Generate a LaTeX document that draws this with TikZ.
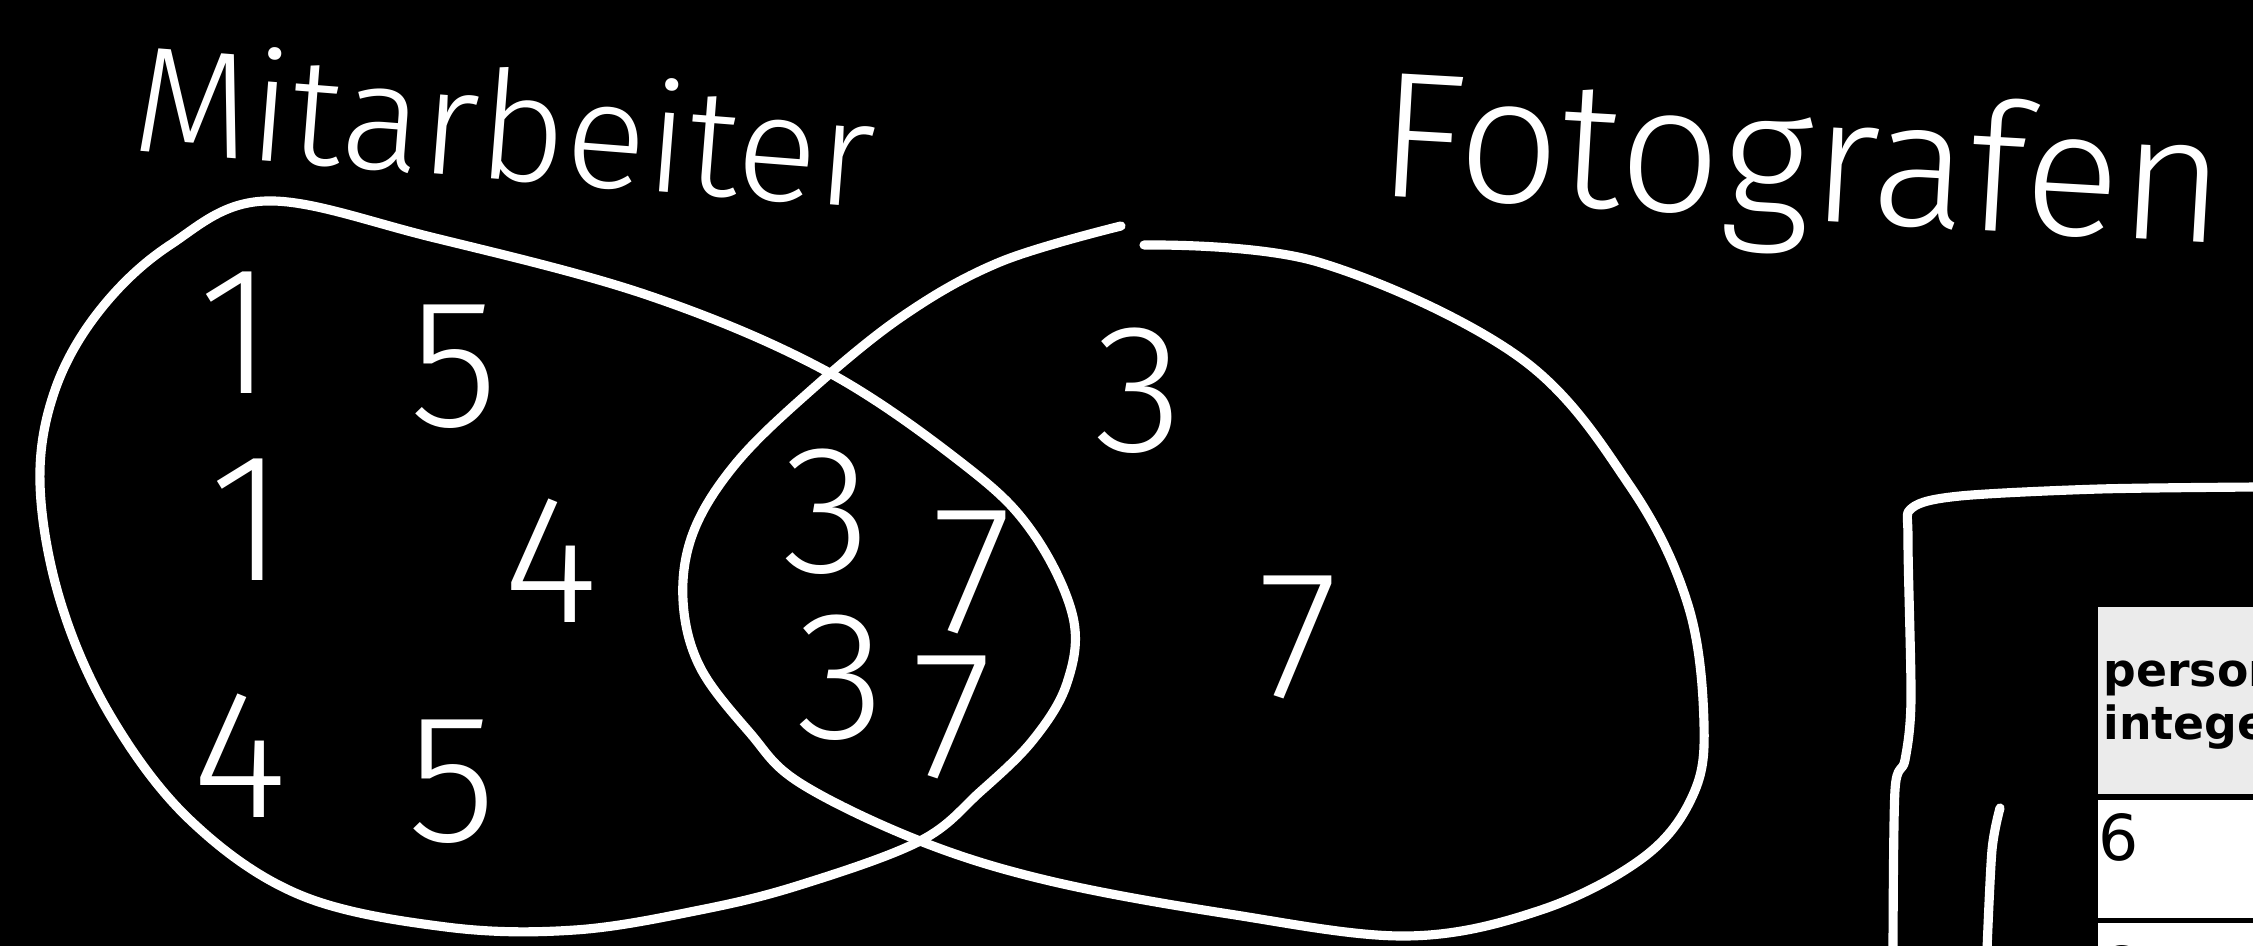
\documentclass[tikz,border=0pt]{standalone}
\usepackage{fontspec}
\setmainfont{DejaVu Sans}
\newfontfamily\handfont{Fira Sans Light}
\usetikzlibrary{positioning,calc}

\begin{document}
\begin{tikzpicture}[x=0.01cm, y=-0.01cm,
    chalk/.style={draw=white, line width=2.6pt, line cap=round, line join=round},
    word/.style={text=white, inner sep=0pt, anchor=base west},
    digit/.style={text=white, inner sep=0pt, font=\handfont\fontsize{52}{52}\selectfont},
    cell/.style={inner sep=0pt, anchor=north west, minimum width=1.7cm},
    entry/.style={inner sep=0pt, anchor=base west}]
    \fill [black] (0,0) rectangle (2253,946);
    \useasboundingbox (0,0) rectangle (2253,946);
    \clip (0,0) rectangle (2253,946);

    % set labels
    \node [word, rotate=-4.5, font=\handfont\fontsize{43}{43}\selectfont] (mitarbeiter) at (130,150) {Mitarbeiter};
    \node [word, rotate=-3.3, font=\handfont\fontsize{51}{51}\selectfont] (fotografen) at (1375,195) {Fotografen};

    % the two sets
    \draw [chalk] plot [smooth cycle, tension=0.6] coordinates {(266,201) (431,237) (647,295) (826,371) (967,467) (1033,533) (1073,617) (1067,683) (1033,740) (980,792) (920,841) (800,885) (700,910) (575,930) (446,927) (300,895) (190,820) (110,715) (60,600) (40,483) (55,390) (100,310) (170,245)};
    \draw [chalk] plot [smooth, tension=0.6] coordinates {(1144,245) (1318,262) (1519,357) (1630,486) (1688,605) (1704,724) (1693,795) (1644,857) (1541,910) (1407,936) (1229,914) (1050,881) (920,841) (800,783) (750,733) (700,667) (683,600) (693,533) (733,467) (800,400) (900,318) (1000,262) (1121,226)};

    % Mitarbeiter only
    \node [digit] (m1) at (236,333) {1};
    \node [digit] (m2) at (454,367) {5};
    \node [digit] (m3) at (247,520) {1};
    \node [digit] (m4) at (551,561) {4};
    \node [digit] (m5) at (240,756) {4};
    \node [digit] (m6) at (452,782) {5};
    % both
    \node [digit] (b1) at (827,512) {3};
    \node [digit] (b2) at (972,572) {7};
    \node [digit] (b3) at (841,678) {3};
    \node [digit] (b4) at (952,717) {7};
    % Fotografen only
    \node [digit] (f1) at (1139,391) {3};
    \node [digit] (f2) at (1298,637) {7};

    % frame round the table
    \draw [chalk] plot [smooth, tension=0.5] coordinates {(1893,950) (1895,790) (1905,760) (1911,700) (1908,540) (1912,508) (1960,496) (2100,489) (2260,487)};
    \draw [chalk] plot [smooth, tension=0.5] coordinates {(2000,808) (1992,850) (1987,950)};

    % table
    \node [cell, fill=black!8, minimum height=1.89cm] (head) at (2096,606) {};
    \node [cell, fill=white, minimum height=1.18cm] (row1) at (2096,799) {};
    \node [cell, fill=white, minimum height=0.3cm] (row2) at (2096,921) {};
    \draw [black, line width=1.2pt] (head.south west) -- (head.south east);
    \draw [black, line width=1.2pt] (row2.north west) -- (row2.north east);
    \draw [black, line width=1.2pt] (head.north west) -- (row2.south west);
    \node [entry, font=\bfseries\fontsize{13}{15}\selectfont] (colname) at (2103,687) {person};
    \node [entry, font=\bfseries\fontsize{13}{15}\selectfont] (coltype) at (2103,740) {integer};
    \node [entry, font=\fontsize{18}{18}\selectfont] (val1) at (2098,860) {6};
    \node [entry, font=\fontsize{18}{18}\selectfont] (val2) at (2098,993) {6};
\end{tikzpicture}
\end{document}
